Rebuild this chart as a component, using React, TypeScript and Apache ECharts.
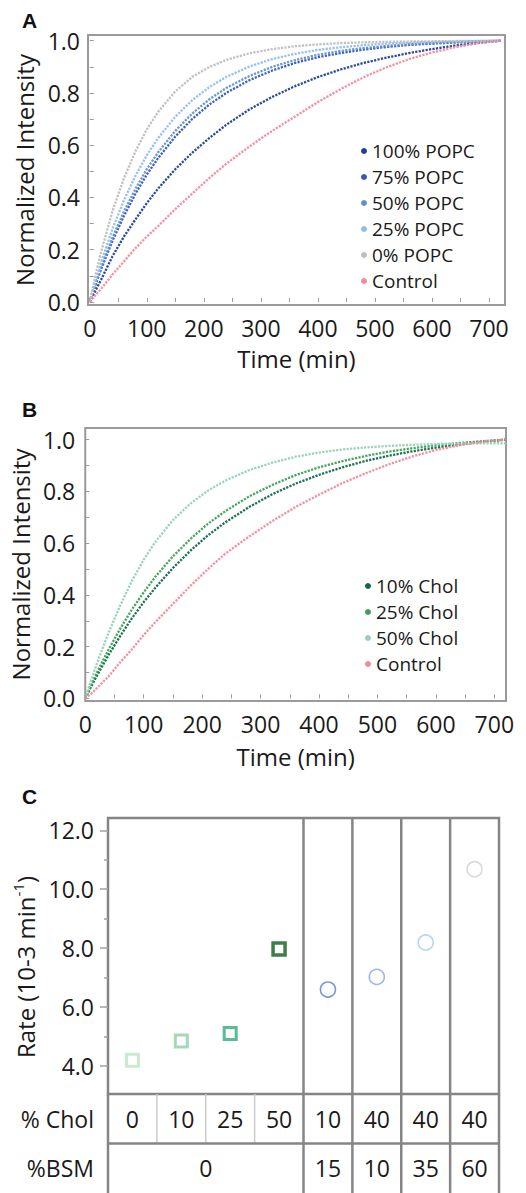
import React, { useEffect, useRef } from "react";
import * as echarts from "echarts";

// ---------- Panel A / B : kinetics curves ----------
const TIME = [0, 10, 20, 40, 60, 80, 100, 120, 150, 180, 210, 240, 280, 320, 360, 400, 440, 480, 520, 560, 600, 640, 680, 720];

const A_NAMES = ["100% POPC", "75% POPC", "50% POPC", "25% POPC", "0% POPC", "Control"];
const A_COLORS = ["#1d3f98", "#3459b6", "#5f91d8", "#92bde9", "#bdbdbd", "#f28a9c"];
const popc100 = [0, 0.043, 0.085, 0.175, 0.25, 0.315, 0.378, 0.434, 0.508, 0.572, 0.628, 0.679, 0.737, 0.785, 0.826, 0.861, 0.89, 0.915, 0.935, 0.953, 0.968, 0.981, 0.992, 1.0];
const popc75 = [0, 0.064, 0.125, 0.234, 0.329, 0.413, 0.487, 0.551, 0.633, 0.701, 0.756, 0.801, 0.849, 0.886, 0.915, 0.937, 0.953, 0.966, 0.976, 0.984, 0.989, 0.993, 0.997, 1.0];
const popc50 = [0, 0.068, 0.132, 0.246, 0.346, 0.432, 0.508, 0.573, 0.655, 0.722, 0.776, 0.82, 0.865, 0.9, 0.926, 0.946, 0.961, 0.972, 0.98, 0.987, 0.991, 0.995, 0.998, 1.0];
const popc25 = [0, 0.079, 0.152, 0.28, 0.389, 0.482, 0.561, 0.627, 0.709, 0.773, 0.823, 0.862, 0.901, 0.93, 0.95, 0.965, 0.975, 0.983, 0.989, 0.993, 0.995, 0.997, 0.999, 1.0];
const popc0 = [0, 0.101, 0.192, 0.348, 0.473, 0.576, 0.66, 0.728, 0.806, 0.862, 0.9, 0.927, 0.952, 0.968, 0.979, 0.986, 0.991, 0.994, 0.996, 0.997, 0.998, 0.999, 0.999, 1.0];
const controlA = [0, 0.025, 0.05, 0.105, 0.155, 0.205, 0.25, 0.29, 0.355, 0.415, 0.475, 0.53, 0.595, 0.655, 0.71, 0.765, 0.815, 0.86, 0.898, 0.93, 0.955, 0.975, 0.99, 1.0];
const A_VALUES = [popc100, popc75, popc50, popc25, popc0, controlA];

const B_NAMES = ["10% Chol", "25% Chol", "50% Chol", "Control"];
const B_COLORS = ["#0f6a42", "#3f9f5a", "#94d2b5", "#f28a9c"];
const chol10 = [0, 0.045, 0.088, 0.168, 0.242, 0.31, 0.372, 0.428, 0.504, 0.571, 0.63, 0.681, 0.739, 0.789, 0.83, 0.864, 0.893, 0.918, 0.938, 0.955, 0.969, 0.981, 0.992, 1.0];
const chol25 = [0, 0.051, 0.1, 0.189, 0.27, 0.344, 0.41, 0.47, 0.549, 0.616, 0.675, 0.724, 0.78, 0.825, 0.863, 0.893, 0.917, 0.937, 0.954, 0.967, 0.978, 0.987, 0.994, 1.0];
const chol50 = [0, 0.07, 0.135, 0.255, 0.36, 0.455, 0.536, 0.605, 0.689, 0.753, 0.803, 0.842, 0.882, 0.911, 0.934, 0.95, 0.962, 0.97, 0.976, 0.98, 0.983, 0.985, 0.986, 0.986];
const controlB = [0, 0.018, 0.04, 0.085, 0.14, 0.19, 0.245, 0.295, 0.365, 0.435, 0.5, 0.56, 0.625, 0.685, 0.74, 0.787, 0.832, 0.87, 0.905, 0.935, 0.96, 0.978, 0.993, 1.0];
const B_VALUES = [chol10, chol25, chol50, controlB];

const X_LABELS = [0, 100, 200, 300, 400, 500, 600, 700];
const X_TICKS = [0, 50, 100, 150, 200, 250, 300, 350, 400, 450, 500, 550, 600, 650, 700];
const Y_LABELS = [0, 0.2, 0.4, 0.6, 0.8, 1.0];
const Y_TICKS = [0, 0.1, 0.2, 0.3, 0.4, 0.5, 0.6, 0.7, 0.8, 0.9, 1.0];

// ---------- Panel C : rates ----------
const CHOL = ["0", "10", "25", "50", "10", "40", "40", "40"];
const BSM = ["0", "0", "0", "0", "15", "10", "35", "60"];
const RATES = [4.19, 4.84, 5.1, 7.97, 6.59, 7.02, 8.19, 10.68];
const MARK_COLORS = ["#bfe3c4", "#8fcfa3", "#36a77b", "#0e5e1c", "#5a7ecf", "#7fa4e3", "#a9caf0", "#cfcfcf"];
const MARK_SHAPES = ["rect", "rect", "rect", "rect", "circle", "circle", "circle", "circle"];
const BSM_GROUP_LABELS = ["0", "15", "10", "35", "60"];
const BSM_GROUP_START = [0, 4, 5, 6, 7];
const BSM_GROUP_END = [3, 4, 5, 6, 7];
const BLOCK_EDGES = [0, 4, 5, 6, 7, 8];
const INNER_BLOCK_EDGES = [4, 5, 6, 7];
const LIGHT_EDGES = [1, 2, 3];
const ROWS = ["% Chol", "%BSM"];
const C_LABELS = [4, 6, 8, 10, 12];
const C_MINOR = [5, 7, 9, 11];

const FONT = '"Open Sans", "Noto Sans", sans-serif';
const INK = "#1a1a1a";
const FRAME = "#9a9a9a";
const DARK_LINE = "#858585";

function curve(name: string, ys: number[], color: string, idx: number) {
  return {
    type: "line",
    name,
    xAxisIndex: idx,
    yAxisIndex: idx,
    data: TIME.map((t, i) => [t, ys[i]]),
    smooth: false,
    showSymbol: false,
    symbol: "circle",
    color,
    itemStyle: { color },
    lineStyle: { color, width: 2.3, type: [2.2, 1.3], opacity: 0.95 },
    silent: true,
  };
}

function valueX(grid: number, min: number, max: number, gap: number, margin: number) {
  return {
    type: "value",
    gridIndex: grid,
    min,
    max,
    axisLine: { show: false },
    splitLine: { show: false },
    axisTick: { show: true, inside: true, length: 4, lineStyle: { color: FRAME, width: 1 }, customValues: X_TICKS },
    axisLabel: { customValues: X_LABELS, fontSize: 23, lineHeight: 22, fontFamily: FONT, color: INK, margin },
    name: "Time (min)",
    nameLocation: "middle",
    nameGap: gap,
    nameTextStyle: { fontSize: 24, lineHeight: 24, fontFamily: FONT, color: INK },
  };
}

function valueY(grid: number, min: number, max: number, gap: number, margin: number) {
  return {
    type: "value",
    gridIndex: grid,
    min,
    max,
    axisLine: { show: false },
    splitLine: { show: false },
    axisTick: { show: true, inside: true, length: 4, lineStyle: { color: FRAME, width: 1 }, customValues: Y_TICKS },
    axisLabel: {
      customValues: Y_LABELS,
      fontSize: 23,
      lineHeight: 22,
      fontFamily: FONT,
      color: INK,
      margin,
      formatter: (v: number) => v.toFixed(1),
    },
    name: "Normalized Intensity",
    nameLocation: "middle",
    nameGap: gap,
    nameTextStyle: { fontSize: 24, lineHeight: 24, fontFamily: FONT, color: INK },
  };
}

const SAMPLE_IDS = CHOL.map((c, i) => c + "|" + BSM[i]);

function buildOption() {
  const series: any[] = [];
  A_NAMES.forEach((n, i) => series.push(curve(n, A_VALUES[i], A_COLORS[i], 0)));
  B_NAMES.forEach((n, i) => series.push(curve(n, B_VALUES[i], B_COLORS[i], 1)));

  // block dividers inside plot C
  series.push({
    type: "custom",
    xAxisIndex: 2,
    yAxisIndex: 2,
    silent: true,
    clip: false,
    data: [[0, 4]],
    renderItem: (params: any, api: any) => {
      const cs = params.coordSys;
      const n = SAMPLE_IDS.length;
      return {
        type: "group",
        children: INNER_BLOCK_EDGES.map((b) => {
          const x = cs.x + (cs.width * b) / n;
          return {
            type: "line",
            shape: { x1: x, y1: cs.y, x2: x, y2: cs.y + cs.height },
            style: { stroke: DARK_LINE, lineWidth: 2.5 },
          };
        }),
      };
    },
    z: 1,
  });

  // rate markers
  series.push({
    type: "scatter",
    xAxisIndex: 2,
    yAxisIndex: 2,
    silent: true,
    z: 5,
    data: RATES.map((r, i) => ({
      value: [i, r],
      symbol: MARK_SHAPES[i],
      symbolSize: MARK_SHAPES[i] === "rect" ? 12 : 15,
      itemStyle: {
        color: "#ffffff",
        borderColor: MARK_COLORS[i],
        borderWidth: MARK_SHAPES[i] === "rect" ? (i === 3 ? 3.5 : 3) : 1.6,
      },
    })),
  });

  // table lines
  series.push({
    type: "custom",
    xAxisIndex: 3,
    yAxisIndex: 4,
    silent: true,
    clip: false,
    data: [[0, 0]],
    renderItem: (params: any, api: any) => {
      const cs = params.coordSys;
      const n = SAMPLE_IDS.length;
      const rowMid = cs.y + cs.height / ROWS.length;
      const children: any[] = [];
      LIGHT_EDGES.forEach((b) => {
        const x = cs.x + (cs.width * b) / n;
        children.push({
          type: "line",
          shape: { x1: x, y1: cs.y, x2: x, y2: rowMid },
          style: { stroke: "#cccccc", lineWidth: 1.5 },
        });
      });
      children.push({
        type: "line",
        shape: { x1: cs.x, y1: rowMid, x2: cs.x + cs.width, y2: rowMid },
        style: { stroke: DARK_LINE, lineWidth: 2.5 },
      });
      BLOCK_EDGES.forEach((b) => {
        const x = cs.x + (cs.width * b) / n;
        children.push({
          type: "line",
          shape: { x1: x, y1: cs.y, x2: x, y2: cs.y + cs.height + 2 },
          style: { stroke: DARK_LINE, lineWidth: 2.5 },
        });
      });
      return { type: "group", children };
    },
    z: 1,
  });

  // table texts: % Chol row
  series.push({
    type: "custom",
    xAxisIndex: 3,
    yAxisIndex: 4,
    silent: true,
    data: CHOL.map((c, i) => [i, 0]),
    renderItem: (params: any, api: any) => {
      const p = api.coord([api.value(0), api.value(1)]);
      return {
        type: "text",
        x: p[0],
        y: p[1],
        style: {
          text: CHOL[params.dataIndex],
          fill: INK,
          font: "23px " + FONT,
          align: "center",
          verticalAlign: "middle",
        },
      };
    },
    z: 3,
  });

  // table texts: %BSM row (merged cells)
  series.push({
    type: "custom",
    xAxisIndex: 3,
    yAxisIndex: 4,
    silent: true,
    data: BSM_GROUP_LABELS.map((l, i) => [BSM_GROUP_START[i], BSM_GROUP_END[i], 1]),
    renderItem: (params: any, api: any) => {
      const a = api.coord([api.value(0), api.value(2)]);
      const b = api.coord([api.value(1), api.value(2)]);
      return {
        type: "text",
        x: (a[0] + b[0]) / 2,
        y: a[1],
        style: {
          text: BSM_GROUP_LABELS[params.dataIndex],
          fill: INK,
          font: "23px " + FONT,
          align: "center",
          verticalAlign: "middle",
        },
      };
    },
    z: 3,
  });

  return {
    animation: false,
    backgroundColor: "#ffffff",
    textStyle: { fontFamily: FONT },
    grid: [
      { left: 88, top: 35, width: 417, height: 270, show: true, borderColor: FRAME, borderWidth: 2, backgroundColor: "transparent" },
      { left: 82, top: 428, width: 424, height: 273, show: true, borderColor: FRAME, borderWidth: 2, backgroundColor: "transparent" },
      { left: 108, top: 818, width: 391, height: 276, show: true, borderColor: DARK_LINE, borderWidth: 2.5, backgroundColor: "transparent" },
      { left: 108, top: 1094, width: 391, height: 99, show: false },
    ],
    xAxis: [
      valueX(0, -3, 728, 41, 12),
      valueX(1, 0, 720, 43, 12),
      {
        type: "category",
        gridIndex: 2,
        data: SAMPLE_IDS,
        boundaryGap: true,
        axisLine: { show: false },
        axisTick: { show: false },
        axisLabel: { show: false },
        splitLine: { show: false },
      },
      {
        type: "category",
        gridIndex: 3,
        data: SAMPLE_IDS,
        boundaryGap: true,
        axisLine: { show: false },
        axisTick: { show: false },
        axisLabel: { show: false },
        splitLine: { show: false },
      },
    ],
    yAxis: [
      valueY(0, -0.012, 1.022, 46, 8),
      valueY(1, -0.01, 1.045, 43, 10),
      {
        type: "value",
        gridIndex: 2,
        position: "left",
        min: 3.04,
        max: 12.42,
        axisLine: { show: false },
        splitLine: { show: false },
        axisTick: { show: true, inside: false, length: 8, lineStyle: { color: "#a0a0a0", width: 1.5 }, customValues: C_LABELS },
        axisLabel: {
          customValues: C_LABELS,
          fontSize: 23,
          fontFamily: FONT,
          color: INK,
          margin: 14,
          formatter: (v: number) => v.toFixed(1),
        },
        name: "{n|Rate (10-3 min}{s|-1}{n|)}{g| }",
        nameLocation: "middle",
        nameGap: 66,
        nameTextStyle: {
          fontFamily: FONT,
          color: INK,
          rich: {
            n: { fontSize: 24, fontFamily: FONT, color: INK, lineHeight: 30 },
            s: { fontSize: 15, fontFamily: FONT, color: INK, lineHeight: 18, verticalAlign: "top" },
            g: { fontSize: 10, width: 22, lineHeight: 30 },
          },
        },
      },
      {
        type: "value",
        gridIndex: 2,
        position: "left",
        offset: 0,
        min: 3.04,
        max: 12.42,
        axisLine: { show: false },
        splitLine: { show: false },
        axisLabel: { show: false },
        axisTick: { show: true, inside: false, length: 4, lineStyle: { color: "#a0a0a0", width: 1.5 }, customValues: C_MINOR },
      },
      {
        type: "category",
        gridIndex: 3,
        data: ROWS,
        inverse: true,
        axisLine: { show: false },
        axisTick: { show: false },
        splitLine: { show: false },
        axisLabel: { fontSize: 23, fontFamily: FONT, color: INK, margin: 14 },
      },
    ],
    legend: [
      {
        orient: "vertical",
        left: 356,
        top: 136,
        icon: "circle",
        itemWidth: 6,
        itemHeight: 6,
        itemGap: 6,
        selectedMode: false,
        data: A_NAMES,
        textStyle: { fontSize: 19, fontFamily: FONT, color: INK, lineHeight: 20 },
      },
      {
        orient: "vertical",
        left: 360,
        top: 571,
        icon: "circle",
        itemWidth: 6,
        itemHeight: 6,
        itemGap: 6,
        selectedMode: false,
        data: B_NAMES,
        textStyle: { fontSize: 19, fontFamily: FONT, color: INK, lineHeight: 20 },
      },
    ],
    graphic: [
      { type: "text", left: 22, top: 10, style: { text: "A", font: 'bold 21px "Liberation Sans", Arial, sans-serif', fill: "#111" } },
      { type: "text", left: 22, top: 399, style: { text: "B", font: 'bold 21px "Liberation Sans", Arial, sans-serif', fill: "#111" } },
      { type: "text", left: 22, top: 786, style: { text: "C", font: 'bold 21px "Liberation Sans", Arial, sans-serif', fill: "#111" } },
    ],
    series,
  };
}

export default function App() {
  const ref = useRef<HTMLDivElement>(null);
  useEffect(() => {
    if (!ref.current) return;
    const chart = echarts.init(ref.current, null, { renderer: "svg" });
    chart.setOption(buildOption() as any);
    return () => chart.dispose();
  }, []);
  return (
    <div
      ref={ref}
      style={{ position: "absolute", left: 0, top: 0, width: 526, height: 1193, background: "#ffffff" }}
    />
  );
}
